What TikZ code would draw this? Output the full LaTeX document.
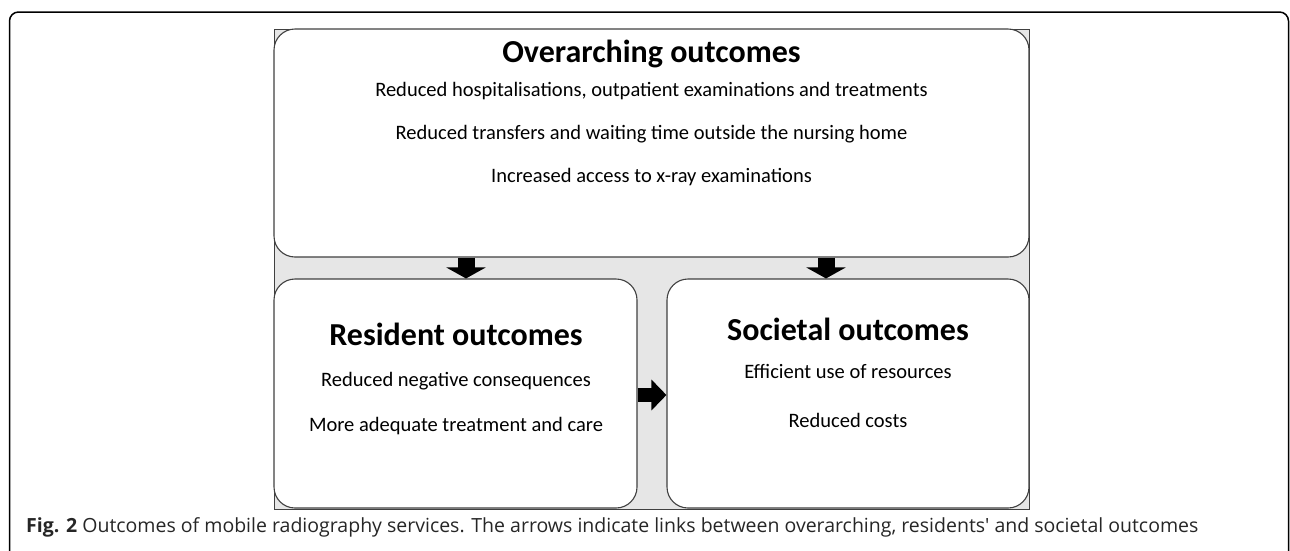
\documentclass[tikz,border=0pt]{standalone}
\usepackage{fontspec}
\setmainfont{Carlito}
\newfontfamily\capfont{Open Sans}
\usetikzlibrary{arrows.meta}
\definecolor{panelgray}{HTML}{E6E6E6}
\definecolor{edgegray}{HTML}{404040}
\tikzset{
  outbox/.style={draw=edgegray, line width=1.1pt, fill=white, rounded corners=21pt, inner sep=0pt},
  title/.style={anchor=base, font=\fontsize{32}{36}\selectfont\bfseries, inner sep=0pt},
  item/.style={anchor=base, font=\fontsize{20.5}{24}\selectfont, inner sep=0pt},
  downarrow/.style={line width=17pt, -{Triangle[width=39pt,length=11pt]}},
  sidearrow/.style={line width=14pt, -{Triangle[width=30pt,length=15pt]}},
}
\begin{document}
\begin{tikzpicture}[x=1pt,y=-1pt]
\useasboundingbox (0,0) rectangle (1290,550);
% outer frame
\draw[line width=1.5pt, rounded corners=9pt] (9.5,560) -- (9.5,12) -- (1288.5,12) -- (1288.5,560);
% grey panel
\node[draw=edgegray, line width=0.8pt, fill=panelgray, minimum width=755pt, minimum height=480pt, inner sep=0pt] (panel) at (651.5,269) {};
% boxes
\node[outbox, minimum width=755pt, minimum height=228pt] (top) at (651.5,143) {};
\node[outbox, minimum width=363pt, minimum height=229pt] (left) at (455.5,393.5) {};
\node[outbox, minimum width=362pt, minimum height=229pt] (right) at (848,393.5) {};
% texts top
\node[title] (t0) at (651.5,62) {Overarching outcomes};
\node[item] (t1) at (651.5,96) {Reduced hospitalisations, outpatient examinations and treatments};
\node[item] (t2) at (651.5,139) {Reduced transfers and waiting time outside the nursing home};
\node[item] (t3) at (651.5,182) {Increased access to x-ray examinations};
% texts left
\node[title] (l0) at (456,345) {Resident outcomes};
\node[item] (l1) at (456,386) {Reduced negative consequences};
\node[item] (l2) at (456,431) {More adequate treatment and care};
% texts right
\node[title] (r0) at (848,340) {Societal outcomes};
\node[item] (r1) at (848,378) {Efficient use of resources};
\node[item] (r2) at (848,427) {Reduced costs};
% arrows
\coordinate (ax1) at (466,0);
\coordinate (ax2) at (826,0);
\coordinate (ay) at (0,395);
\draw[downarrow] (top.south -| ax1) -- (left.north -| ax1);
\draw[downarrow] (top.south -| ax2) -- (right.north -| ax2);
\draw[sidearrow] (left.east |- ay) -- (right.west |- ay);
% caption
\node[anchor=base west, inner sep=0pt, text=black!85, font=\capfont\fontsize{19.5}{22}\selectfont] (cap) at (26,532) {\textbf{Fig. 2} Outcomes of mobile radiography services. The arrows indicate links between overarching, residents' and societal outcomes};
\end{tikzpicture}
\end{document}
